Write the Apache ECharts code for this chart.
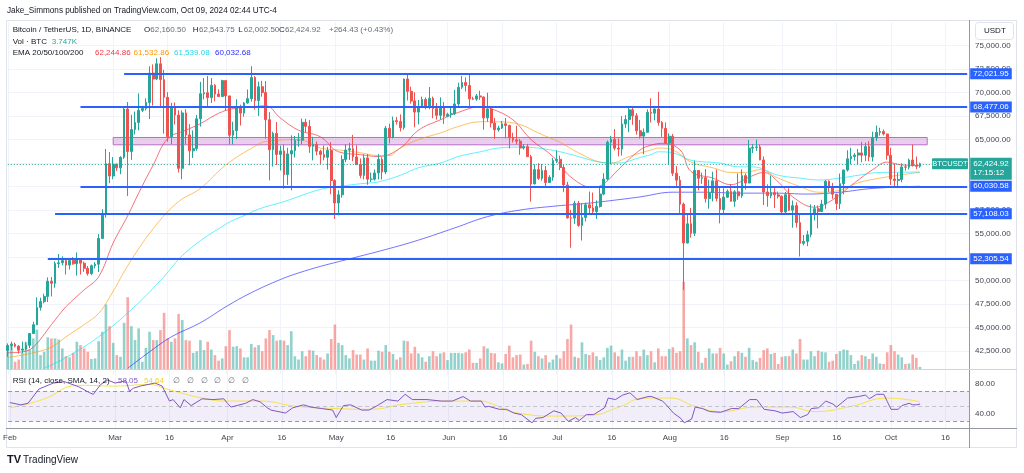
<!DOCTYPE html>
<html><head><meta charset="utf-8">
<script src="https://cdn.jsdelivr.net/npm/echarts@6/dist/echarts.min.js"></script>
<style>html,body{margin:0;padding:0;background:#fff}#c{width:1024px;height:473px}</style>
</head><body><div id="c"></div><script>
// ---------- DATA ----------
// daily candles [open, high, low, close], BTC/USDT 1D
const feb = [[42570,43300,41880,43080],[43080,43490,42570,43200],[43200,43380,42880,43010],[43010,43120,42220,42580],[42580,43500,42260,42710],[42710,43400,42580,43100],[43100,44390,42790,44350],[44350,45600,44330,45290],[45290,48200,45250,47130],[47130,48170,46800,47750],[47750,48590,47560,48300],[48300,50330,47710,49920],[49920,50370,48300,49700],[49700,52040,49230,51800],[51800,52820,51330,51880],[51880,52570,51620,52120],[52120,52190,50630,51640],[51640,52370,51170,52140],[52140,52490,51670,51780],[51780,52990,50520,52280],[52280,52370,50630,51840],[51840,52000,50920,51300],[51300,51550,50520,50730],[50730,51700,50560,51570],[51570,51960,51280,51730],[51730,54940,50900,54480],[54480,57590,54450,57040],[57040,64000,56690,62430],[62430,63680,60360,61130]];
const mar = [[61130,63140,60780,62390],[62390,62430,61660,61990],[61990,63230,61320,63110],[63110,68500,62950,68250],[68250,69000,59000,63720],[63720,67640,62850,66070],[66070,67990,65540,66820],[66820,69920,66000,68120],[68120,68590,67930,68310],[68310,69400,68100,68960],[68960,72800,67190,72080],[72080,73000,68620,71450],[71450,73650,71330,73070],[73070,73780,68550,71390],[71390,72420,65630,69500],[69500,70040,64780,65300],[65300,68920,64530,68390],[68390,68960,66600,67610],[67610,68130,61500,61940],[61940,68100,60780,67840],[67840,68240,64530,65500],[65500,66650,62260,63800],[63800,65980,63040,64040],[64040,67620,63820,67210],[67210,71150,66390,69880],[69880,71560,69280,69990],[69990,71770,68380,69470],[69470,71550,68900,70780],[70780,70910,69080,69850],[69850,70350,69570,69580],[69580,71370,69560,71280]];
const apr = [[71280,71290,68060,69650],[69650,69670,64500,65460],[65460,66900,64490,65960],[65960,69300,65060,68490],[68490,68720,66500,67820],[67820,69000,67450,68900],[68900,70330,68820,69360],[69360,72800,69040,71620],[71620,71760,68210,69150],[69150,71170,67520,70630],[70630,71260,69570,70010],[70010,71230,65100,67120],[67120,67930,60660,63920],[63920,65840,62130,65660],[65660,66870,62300,63420],[63420,64360,61710,63790],[63790,64480,59770,61280],[61280,64130,60170,63470],[63470,65450,59600,63820],[63820,65390,63100,64940],[64940,65700,64240,64940],[64940,67230,64500,66840],[66840,67210,65800,66410],[66410,67080,63590,64280],[64280,65300,62790,64480],[64480,64800,63320,63760],[63760,63920,62400,63420],[63420,64370,62800,63110],[63110,64230,61800,63840],[63840,64730,59190,60640]];
const may = [[60640,60780,56550,58250],[58250,59600,56940,59120],[59120,63330,58810,62890],[62890,64500,62590,63890],[63890,64650,62830,64030],[64030,65500,62700,63160],[63160,64390,62300,62330],[62330,62990,60880,61190],[61190,63420,60750,63050],[63050,63470,60190,60790],[60790,61490,60490,60790],[60790,61820,60630,61450],[61450,63450,60750,62900],[62900,63120,60760,61550],[61550,66450,61320,66210],[66210,66690,64600,65230],[65230,67450,65120,67020],[67020,67400,66600,66920],[66920,67690,65860,66270],[66270,71500,66060,71450],[71450,71980,69160,70140],[70140,70630,68830,69120],[69120,70040,66300,67930],[67930,69220,66620,68530],[68530,69580,68500,69270],[69270,69510,68220,68520],[68520,70600,68230,69390],[69390,69580,67280,68300],[68300,68900,67120,67580],[67580,69500,67120,68360],[68360,69000,66670,67490]];
const jun = [[67490,67860,67390,67710],[67710,68440,67320,67750],[67750,70290,67610,68800],[68800,71060,68560,70570],[70570,71760,70380,71080],[71080,71620,70120,70760],[70760,72000,68500,69340],[69340,69560,69220,69310],[69310,69860,69130,69650],[69650,70200,69230,69540],[69540,69570,66050,67310],[67310,69990,66900,68260],[68260,68450,66300,66770],[66770,67320,65080,66040],[66040,66470,65850,66230],[66230,66990,66120,66680],[66680,67300,65130,66500],[66500,66580,64060,65180],[65180,65730,64690,64970],[64970,66480,64500,64830],[64830,65070,63380,64100],[64100,64520,63940,64250],[64250,64540,63210,63180],[63180,63370,58400,60280],[60280,62370,60240,61800],[61800,62480,60710,60870],[60870,62390,60620,61710],[61710,62200,60000,60430],[60430,61210,60380,60990],[60990,63060,60620,62770]];
const jul = [[62770,63860,62500,62900],[62900,63300,61750,62030],[62030,62290,59400,60170],[60170,60500,56600,56660],[56660,57500,53490,56640],[56640,58480,56020,58230],[58230,58470,55720,55860],[55860,58240,54260,56710],[56710,58300,56290,58050],[58050,59470,57160,57720],[57720,59360,57050,57340],[57340,58530,56550,57890],[57890,59850,57760,59200],[59200,61420,59080,60800],[60800,64900,60630,64720],[64720,65390,62370,65040],[65040,66130,63860,64090],[64090,65120,63220,63990],[63990,67490,63300,66660],[66660,67600,66220,67140],[67140,68370,65790,68170],[68170,68480,66570,67530],[67530,67820,65520,65940],[65940,67100,65110,65370],[65370,66180,63450,65780],[65780,68220,65740,67910],[67910,69400,66820,67810],[67810,68310,67050,68260],[68260,70080,66480,66820],[66820,66970,65290,66200],[66200,66830,64530,64620]];
const aug = [[64620,65660,62300,65360],[65360,65600,61120,61420],[61420,62180,59850,60680],[60680,61120,57120,58120],[58120,58300,49000,53990],[53990,57050,53950,56030],[56030,57730,54560,55030],[55030,62750,54730,61710],[61710,61740,59590,60880],[60880,61480,60290,60950],[60950,61860,58290,58720],[58720,60730,57640,59350],[59350,61580,58420,60610],[60610,61800,58430,58740],[58740,59850,56080,57560],[57560,59820,57100,58870],[58870,59690,58790,59490],[59490,60280,58410,58430],[58430,59620,57850,59440],[59440,61400,58590,59010],[59010,61830,58790,61160],[61160,61400,59700,60380],[60380,64960,60350,64090],[64090,64520,63560,64180],[64180,65000,63800,64220],[64220,64480,62800,62830],[62830,63210,58030,59420],[59420,60230,57860,59030],[59030,61170,58750,59360],[59360,59940,57700,59120],[59120,59460,58740,58970]];
const sep = [[58970,59060,57200,57300],[57300,59420,57130,59130],[59130,59820,57420,57490],[57490,58520,55610,57970],[57970,58330,55640,56160],[56160,56990,52550,53960],[53960,54850,53740,54160],[54160,55300,53650,54870],[54870,58100,54590,57040],[57040,58040,56390,57640],[57640,57990,55550,57340],[57340,58590,57310,58130],[58130,60670,57630,60570],[60570,60660,59440,60010],[60010,60390,58700,59180],[59180,59210,57490,58190],[58190,61390,57610,60310],[60310,61790,59170,61760],[61760,63870,61600,62950],[62950,64130,62350,63200],[63200,63560,62760,63350],[63350,64000,62360,63580],[63580,64750,62590,63340],[63340,64690,62700,64260],[64260,64820,62700,63150],[63150,65840,62670,65170],[65170,66500,64840,65770],[65770,66260,65420,65860],[65860,66080,65440,65600],[65600,65620,62860,63330]];
const oct = [[63330,64130,60170,60800],[60800,62390,59980,60650],[60650,61470,59830,60750],[60750,62480,60460,62090],[62090,62370,61690,62060],[62060,62980,61810,62820],[62820,64480,62130,62220],[62220,63200,61860,62160],[62160.5,62543.75,62002.5,62424.92]];

// daily volume, thousand BTC
const volFeb = [40,46,13,17,29,49,35,55,71,25,31,57,55,55,53,37,23,21,29,49,43,37,31,18,19,50,67,116,77];
const volMar = [47,25,22,83,129,77,52,73,13,38,67,52,52,70,101,55,49,55,99,88,52,51,29,32,52,34,49,35,25,15,19];
const volApr = [41,70,40,41,37,21,21,45,39,43,32,55,70,61,51,52,51,43,68,23,17,32,23,34,33,25,21,17,28,54];
const volMay = [80,47,43,25,19,34,26,26,17,37,15,15,33,31,43,31,27,17,21,51,50,28,40,28,21,13,23,32,23,28,30];
const volJun = [16,29,29,29,28,30,35,11,11,19,41,37,29,28,12,10,27,42,21,25,26,8,9,51,31,23,19,25,12,17];
const volJul = [25,19,32,54,80,22,20,48,27,25,30,23,16,21,38,42,30,23,35,15,22,22,32,23,35,25,32,12,37,23,23];
const volAug = [36,39,29,32,157,55,43,48,31,11,20,37,28,28,38,28,8,14,23,32,29,22,38,16,13,20,34,37,27,29,9];
const volSep = [22,23,23,35,28,54,17,17,32,23,33,31,30,13,15,27,32,35,34,25,9,15,25,23,18,28,22,10,9,30];
const volOct = [43,32,26,21,9,10,26,20,3.747];

// EMA readings [day offset from Feb 1, value]
const ema20 = [[0,42300],[4,42400],[7,42900],[12,45300],[16,47200],[21,49000],[25,50400],[29,54000],[33,56900],[36,59300],[40,62300],[44,65100],[49,66000],[53,66700],[58,67800],[62,68300],[67,68500],[71,68600],[75,67300],[80,66000],[86,65300],[91,63700],[97,63400],[102,63200],[108,64100],[113,66000],[119,67100],[124,67900],[130,68500],[133,68300],[139,67100],[144,65000],[150,63200],[155,61000],[161,59900],[164,60300],[168,61800],[174,63900],[177,64400],[180,64600],[185,63900],[188,61600],[194,60900],[199,60200],[204,61000],[208,61500],[212,60500],[216,58900],[222,57800],[227,58600],[233,60400],[238,61800],[242,62600],[246,62300],[251,62244.86]];
const ema50 = [[0,41800],[7,42300],[12,42900],[16,44000],[21,45300],[25,46500],[28,48200],[34,52200],[41,56000],[47,58400],[53,59800],[60,62300],[68,64300],[71,64800],[80,65000],[86,64100],[91,63900],[97,63600],[102,63300],[105,63300],[108,64100],[113,65000],[119,65700],[124,66400],[130,66900],[135,66900],[141,66600],[146,65700],[152,64700],[157,63600],[163,62600],[166,62500],[171,63200],[177,63900],[179,64100],[183,63900],[188,62600],[194,62000],[199,61500],[203,61500],[207,61800],[212,60900],[218,60000],[223,59400],[229,59600],[234,60400],[240,60900],[245,61200],[251,61532.86]];
const ema100 = [[10,40650],[16,41800],[25,44000],[34,46900],[42,50000],[49,53000],[60,56000],[65,56900],[69,57600],[76,58400],[86,59700],[91,60000],[97,60300],[102,60500],[108,61200],[113,62000],[119,62500],[124,63200],[130,63700],[135,64100],[141,64200],[146,64100],[152,63700],[157,63200],[163,62600],[168,62500],[174,63100],[177,63400],[179,63700],[183,63600],[188,62800],[196,62500],[201,62100],[205,62100],[212,61200],[218,60900],[223,60700],[229,60900],[234,61200],[240,61500],[251,61539.08]];
const ema200 = [[33,40650],[39,42400],[45,44000],[53,45500],[60,47200],[67,48700],[75,50100],[80,50800],[86,51500],[91,52000],[94,52300],[104,53300],[113,54300],[123,55600],[132,56800],[141,57500],[150,57900],[159,58200],[168,58600],[174,58900],[183,59400],[192,59400],[201,59300],[211,59300],[220,59200],[229,59400],[238,59800],[251,60032.68]];

// RSI(14) and its SMA(14) readings [day offset, value]
const rsi = [[0,55],[3,52],[5,54],[8,73],[12,81],[15,83],[19,76],[22,68],[23,66],[25,79],[27,85],[29,81],[32,84],[33,70],[34,74],[36,77],[40,81],[42,77],[44,57],[45,59],[47,48],[48,59],[50,51],[53,60],[56,59],[59,60],[60,54],[61,49],[65,54],[67,59],[69,56],[71,48],[72,45],[76,41],[78,48],[81,52],[83,49],[86,47],[89,45],[90,35],[92,51],[94,52],[97,45],[99,45],[101,50],[104,59],[107,57],[109,66],[111,59],[115,59],[119,57],[122,57],[125,63],[127,57],[130,57],[131,49],[132,50],[135,46],[137,46],[139,41],[141,39],[144,28],[145,34],[147,35],[150,44],[152,41],[154,30],[156,35],[157,31],[159,39],[161,39],[164,48],[165,61],[167,59],[169,65],[171,68],[173,59],[176,63],[177,63],[180,57],[181,52],[183,41],[185,34],[186,28],[188,33],[189,49],[191,47],[193,43],[196,42],[199,47],[201,47],[204,59],[206,59],[208,46],[211,44],[213,41],[216,43],[218,35],[220,39],[221,47],[223,48],[225,57],[227,53],[228,49],[231,61],[234,63],[236,65],[237,60],[239,66],[241,66],[242,56],[243,46],[245,46],[246,51],[248,54],[249,52],[250,52],[251,53]];
const rsiSma = [[0,48],[9,59],[19,78],[29,77],[38,79],[44,72],[53,61],[60,57],[69,57],[79,50],[90,47],[99,46],[109,53],[121,57],[130,57],[132,55],[140,41],[151,37],[160,38],[168,49],[175,61],[182,61],[189,50],[196,43],[206,49],[215,49],[222,43],[232,50],[242,61],[251,56]];

// drawn levels and zone
const levelValues = [72021.95, 68477.06, 60030.58, 57108.03, 52305.54];
const levelStarts = ['2024-03-04','2024-02-21','2024-02-21','2024-02-14','2024-02-12'];
const zoneLow = 64446, zoneHigh = 65224, zoneStart = '2024-03-01', zoneEnd = '2024-10-11';
const lastPrice = 62424.92, countdown = '17:15:12';
const tickDays = ['2024-02-01','2024-03-01','2024-03-16','2024-04-01','2024-04-16','2024-05-01','2024-05-16','2024-06-01','2024-06-16','2024-07-01','2024-07-16','2024-08-01','2024-08-16','2024-09-01','2024-09-16','2024-10-01','2024-10-16'];
const monthNames = ['Jan','Feb','Mar','Apr','May','Jun','Jul','Aug','Sep','Oct','Nov','Dec'];

// ---------- BUILD ----------
const FIRST_DAY = Date.UTC(2024,1,1), N_CATS = 265;
const dates = [];
for (let i = 0; i < N_CATS; i++) dates.push(new Date(FIRST_DAY + i*86400000).toISOString().slice(0,10));
const ohlc = [].concat(feb, mar, apr, may, jun, jul, aug, sep, oct);
const volume = [].concat(volFeb, volMar, volApr, volMay, volJun, volJul, volAug, volSep, volOct);
const tickSet = new Set(tickDays);
const isTick = (i) => tickSet.has(dates[i]);
const pts = (arr) => arr.map(([d, v]) => [dates[d], v]);
const fmt2 = (v) => v.toLocaleString('en-US', {minimumFractionDigits: 2, maximumFractionDigits: 2});

const UP = '#26a69a', DN = '#ef5350';
const FONT = "'Liberation Sans', Arial, sans-serif";
const L = 6, R = 55;

const candleData = ohlc.map(r => [r[0], r[3], r[2], r[1]]);
const volData = volume.map((v, i) => ({value: v, itemStyle: {color: ohlc[i][3] >= ohlc[i][0] ? 'rgba(38,166,154,0.5)' : 'rgba(239,83,80,0.5)'}}));

const levelLines = levelValues.map((lv, k) => [
  {coord: [levelStarts[k], lv], lineStyle: {color: '#2962ff', width: 2, type: 'solid'},
   label: {show: true, position: 'end', distance: 3, formatter: fmt2(lv), color: '#fff', backgroundColor: '#2962ff', padding: [2,3,1,3], fontSize: 8, fontFamily: FONT}},
  {coord: [dates[N_CATS-1], lv]}
]);
const priceLine = [
  {coord: [dates[0], lastPrice], lineStyle: {color: UP, width: 1, type: [1,2]},
   label: {show: true, position: 'end', distance: 3, formatter: fmt2(lastPrice) + '\n' + countdown, color: '#fff', backgroundColor: UP, padding: [2,3,2,3], lineHeight: 9, fontSize: 8, fontFamily: FONT, offset: [0, 5]}},
  {coord: [dates[N_CATS-1], lastPrice]}
];

const xBase = (gi, extra) => Object.assign({
  type: 'category', gridIndex: gi, data: dates, boundaryGap: true,
  axisLine: {show: false}, axisTick: {show: false}, axisLabel: {show: false},
  splitLine: {show: false}
}, extra || {});

const txt = (x, y, text, fill, size, extra) => ({type: 'text', x, y, silent: true, z: 100,
  style: Object.assign({text, fill, fontSize: size || 8, fontFamily: FONT, verticalAlign: 'middle'}, extra || {})});

const graphics = [
  {type: 'rect', shape: {x: 6.5, y: 20.5, width: 1010, height: 427}, style: {fill: 'none', stroke: '#e0e3eb', lineWidth: 1}, silent: true, z: -10},
  {type: 'line', shape: {x1: 969.5, y1: 20, x2: 969.5, y2: 448}, style: {stroke: '#9598a1', lineWidth: 1}, silent: true, z: 50},
  {type: 'line', shape: {x1: 6, y1: 369.5, x2: 1017, y2: 369.5}, style: {stroke: '#d1d4dc', lineWidth: 1}, silent: true, z: 50},
  {type: 'line', shape: {x1: 6, y1: 428.5, x2: 1017, y2: 428.5}, style: {stroke: '#9598a1', lineWidth: 1}, silent: true, z: 50},
  {type: 'rect', shape: {x: 975.5, y: 22.5, width: 38, height: 17, r: 3}, style: {fill: '#fff', stroke: '#e0e3eb', lineWidth: 1}, silent: true, z: 90},
  txt(984, 31, 'USDT', '#131722', 8),
  txt(7, 10.7, 'Jake_Simmons published on TradingView.com, Oct 09, 2024 02:44 UTC-4', '#131722', 8.2),
  txt(12.7, 30, 'Bitcoin / TetherUS, 1D, BINANCE', '#131722'),
  txt(144, 30, 'O', '#131722'), txt(150.3, 30, '62,160.50', '#6a6d78'),
  txt(192.7, 30, 'H', '#131722'), txt(199, 30, '62,543.75', '#6a6d78'),
  txt(238.3, 30, 'L', '#131722'), txt(243.7, 30, '62,002.50', '#6a6d78'),
  txt(279, 30, 'C', '#131722'), txt(285, 30, '62,424.92', '#6a6d78'),
  txt(329, 30, '+264.43 (+0.43%)', '#6a6d78'),
  txt(12.7, 41.7, 'Vol · BTC', '#131722'), txt(51.7, 41.7, '3.747K', UP),
  txt(12.7, 52.7, 'EMA 20/50/100/200', '#131722'),
  txt(95, 52.7, '62,244.86', '#f23645'), txt(133.5, 52.7, '61,532.86', '#ff9800'),
  txt(174, 52.7, '61,539.08', '#26d8e6'), txt(215, 52.7, '60,032.68', '#2a2aff'),
  txt(12.7, 381, 'RSI (14, close, SMA, 14, 2)', '#131722'),
  txt(118, 381, '58.05', '#7e57c2'), txt(144, 381, '54.64', '#f2d33a'),
  txt(173, 381, '∅', '#6a6d78'), txt(187, 381, '∅', '#6a6d78'), txt(201, 381, '∅', '#6a6d78'),
  txt(214, 381, '∅', '#6a6d78'), txt(228, 381, '∅', '#6a6d78'), txt(242, 381, '∅', '#6a6d78'),
  txt(7, 460, 'TV', '#131722', 11, {fontWeight: 'bold'}),
  txt(23, 460, 'TradingView', '#131722', 10)
];

const option = {
  animation: false,
  backgroundColor: '#fff',
  textStyle: {fontFamily: FONT},
  grid: [
    {left: L, right: R, top: 22.2, height: 352.2},
    {left: L, right: R, top: 250, height: 119},
    {left: L, right: R, top: 368.8, height: 59.2}
  ],
  xAxis: [
    xBase(0, {splitLine: {show: true, interval: (i) => isTick(i), alignWithLabel: true, lineStyle: {color: '#f0f3fa', width: 1}}}),
    xBase(1),
    xBase(2, {
      axisLabel: {show: true, interval: (i) => isTick(i), margin: 6, fontSize: 8, color: '#434651', fontFamily: FONT,
        formatter: (v) => { const d = v.slice(8,10); return d === '01' ? monthNames[+v.slice(5,7)-1] : d; }},
      axisTick: {show: false, alignWithLabel: true},
      splitLine: {show: true, interval: (i) => isTick(i), alignWithLabel: true, lineStyle: {color: '#f0f3fa', width: 1}}
    })
  ],
  yAxis: [
    {type: 'value', gridIndex: 0, position: 'right', min: 40000, max: 77500, interval: 2500,
     axisLine: {show: false}, axisTick: {show: false},
     axisLabel: {margin: 6, fontSize: 8, color: '#434651', fontFamily: FONT, showMinLabel: false, showMaxLabel: false, formatter: (v) => fmt2(v)},
     splitLine: {show: true, showMinLine: false, showMaxLine: false, lineStyle: {color: '#f0f3fa', width: 1}}},
    {type: 'value', gridIndex: 1, min: 0, max: 214, show: false, splitLine: {show: false}},
    {type: 'value', gridIndex: 2, position: 'right', min: 21.1, max: 100,
     axisLine: {show: false}, axisTick: {show: false}, splitLine: {show: false},
     axisLabel: {customValues: [40, 80], margin: 6, fontSize: 8, color: '#434651', fontFamily: FONT, formatter: (v) => v.toFixed(2)}}
  ],
  series: [
    {name: 'Volume', type: 'bar', xAxisIndex: 1, yAxisIndex: 1, data: volData, barWidth: '72%', z: 1, silent: true},
    {name: 'BTCUSDT', type: 'candlestick', xAxisIndex: 0, yAxisIndex: 0, data: candleData, barWidth: '62%', z: 5,
     itemStyle: {color: UP, color0: DN, borderColor: UP, borderColor0: DN, borderWidth: 1},
     markArea: {silent: true, itemStyle: {color: 'rgba(206,147,216,0.45)', borderColor: '#b86fc6', borderWidth: 1},
       data: [[{coord: [zoneStart, zoneHigh]}, {coord: [zoneEnd, zoneLow]}]]},
     markLine: {silent: true, symbol: ['none','none'], animation: false, z: 20,
       data: levelLines.concat([priceLine])}
    },
    {name: 'EMA20', type: 'line', xAxisIndex: 0, yAxisIndex: 0, data: pts(ema20), smooth: 0.4, showSymbol: false, z: 4, silent: true,
     lineStyle: {color: '#f23645', width: 1, opacity: 0.7}},
    {name: 'EMA50', type: 'line', xAxisIndex: 0, yAxisIndex: 0, data: pts(ema50), smooth: 0.4, showSymbol: false, z: 4, silent: true,
     lineStyle: {color: '#ff9800', width: 1, opacity: 0.6}},
    {name: 'EMA100', type: 'line', xAxisIndex: 0, yAxisIndex: 0, data: pts(ema100), smooth: 0.4, showSymbol: false, z: 4, silent: true,
     lineStyle: {color: '#00e5ff', width: 1, opacity: 0.6}},
    {name: 'EMA200', type: 'line', xAxisIndex: 0, yAxisIndex: 0, data: pts(ema200), smooth: 0.4, showSymbol: false, z: 4, silent: true,
     lineStyle: {color: '#2a2aff', width: 1, opacity: 0.65}},
    {name: 'RSI', type: 'line', xAxisIndex: 2, yAxisIndex: 2, data: pts(rsi), showSymbol: false, z: 5, silent: true,
     lineStyle: {color: '#7e57c2', width: 1},
     markArea: {silent: true, itemStyle: {color: 'rgba(126,87,194,0.1)'}, data: [[{yAxis: 30}, {yAxis: 70}]]},
     markLine: {silent: true, symbol: ['none','none'], label: {show: false},
       data: [{yAxis: 70, lineStyle: {color: '#9598a1', type: [4,3], width: 1}},
              {yAxis: 50, lineStyle: {color: '#c2c4cb', type: [4,3], width: 1}},
              {yAxis: 30, lineStyle: {color: '#9598a1', type: [4,3], width: 1}}]}},
    {name: 'RSI SMA', type: 'line', xAxisIndex: 2, yAxisIndex: 2, data: pts(rsiSma), smooth: 0.5, showSymbol: false, z: 4, silent: true,
     lineStyle: {color: '#f7e24a', width: 1}}
  ],
  graphic: graphics
};

const chart = echarts.init(document.getElementById('c'), null, {renderer: 'canvas'});
chart.setOption(option);

// "BTCUSDT" tag placed at the last price via the price scale
const py = chart.convertToPixel({yAxisIndex: 0}, lastPrice);
const rightEdge = chart.convertToPixel({xAxisIndex: 0}, dates[N_CATS-1]) + 1.8;
graphics.push({type: 'group', z: 95, children: [
  {type: 'rect', shape: {x: rightEdge - 37, y: py - 5.5, width: 36, height: 11, r: 1}, style: {fill: UP}, silent: true},
  {type: 'text', x: rightEdge - 19, y: py + 0.5, silent: true, style: {text: 'BTCUSDT', fill: '#fff', fontSize: 7.5, fontFamily: FONT, align: 'center', verticalAlign: 'middle'}}
]});
chart.setOption({graphic: graphics}, {replaceMerge: ['graphic']});
</script></body></html>
